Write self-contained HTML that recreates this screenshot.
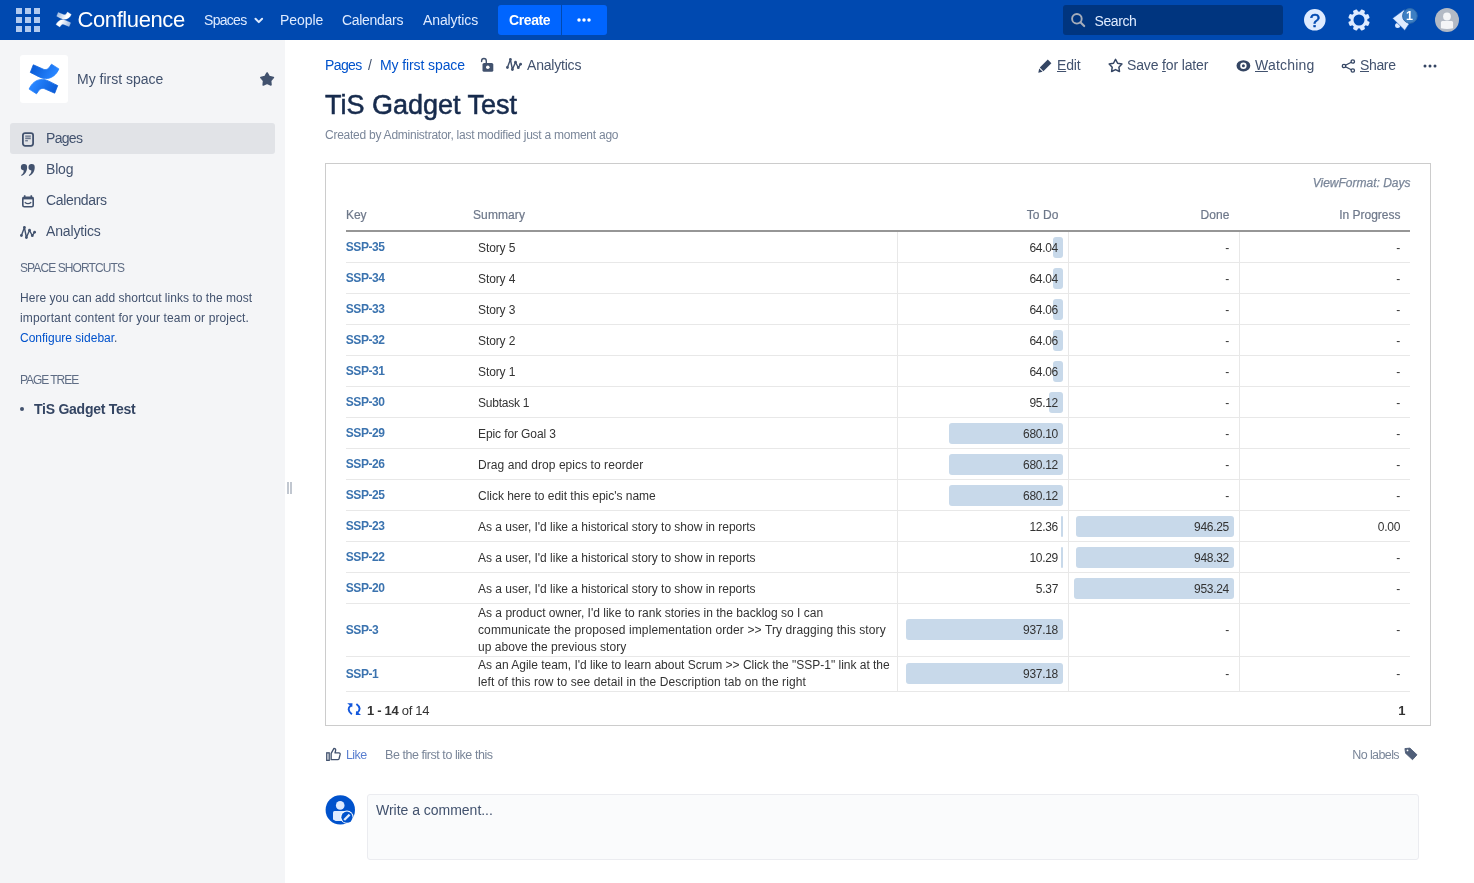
<!DOCTYPE html>
<html lang="en">
<head>
<meta charset="utf-8">
<title>TiS Gadget Test - My first space - Confluence</title>
<style>
*{box-sizing:border-box;}
html,body{margin:0;padding:0;}
body{width:1474px;height:883px;overflow:hidden;position:relative;background:#fff;font-family:"Liberation Sans",sans-serif;font-size:14px;color:#172B4D;}
#hdr,#side,#main{display:block;position:absolute;left:0;top:0;width:1474px;height:0;}
.b,.t,svg{position:absolute;}
svg{overflow:visible;}
.t{white-space:nowrap;line-height:20px;margin:0;padding:0;font-weight:normal;}
a{text-decoration:none;color:#0052CC;}
u{text-decoration:underline;text-underline-offset:1px;text-decoration-thickness:1px;}
</style>
</head>
<body>
<header id="hdr">
<div class="b" style="left:0;top:0;width:1474px;height:40px;background:#0049B0"></div>
<svg style="left:16px;top:8px" width="24" height="24" viewBox="0 0 24 24" fill="#B2CAEF"><rect x="0" y="0" width="6" height="6"/><rect x="9" y="0" width="6" height="6"/><rect x="18" y="0" width="6" height="6"/><rect x="0" y="9" width="6" height="6"/><rect x="9" y="9" width="6" height="6"/><rect x="18" y="9" width="6" height="6"/><rect x="0" y="18" width="6" height="6"/><rect x="9" y="18" width="6" height="6"/><rect x="18" y="18" width="6" height="6"/></svg>
<svg style="left:56px;top:12px" width="15.3" height="15" viewBox="9 9 30 30" preserveAspectRatio="none"><defs><linearGradient id="wg" gradientUnits="userSpaceOnUse" x1="12" y1="11" x2="29" y2="19"><stop offset="0" stop-color="#fff" stop-opacity="0.6"/><stop offset="1" stop-color="#fff"/></linearGradient></defs><g fill="url(#wg)" stroke="url(#wg)" stroke-width="0.6" stroke-linejoin="round"><path d="M13.300 9.800L23.400 14.200C26 15.300 28.500 14 29.900 11.400L31.500 9.200L38.900 13.900C36.500 19.500 32 23.600 25.500 23.600C22 23.600 19 21.800 10.300 17.400Z"/><path d="M13.300 9.800L23.400 14.200C26 15.300 28.500 14 29.900 11.400L31.500 9.200L38.900 13.900C36.500 19.500 32 23.600 25.500 23.600C22 23.600 19 21.800 10.300 17.400Z" transform="rotate(180 24 24)"/></g></svg>
<span class="t" style="left:77.5px;top:8px;line-height:24px;font-size:22px;color:#fff;letter-spacing:-0.4px">Confluence</span>
<span class="t" style="left:204px;top:10px;color:#DEEBFF;letter-spacing:-0.7px">Spaces</span>
<svg style="left:253.5px;top:16.5px" width="10" height="8" viewBox="0 0 10 8"><path d="M1.5 1.8L4.8 5.1L8.1 1.8" fill="none" stroke="#DEEBFF" stroke-width="2" stroke-linecap="round" stroke-linejoin="round"/></svg>
<span class="t" style="left:280px;top:10px;color:#DEEBFF;letter-spacing:-0.05px">People</span>
<span class="t" style="left:342px;top:10px;color:#DEEBFF;letter-spacing:-0.3px">Calendars</span>
<span class="t" style="left:423px;top:10px;color:#DEEBFF;letter-spacing:-0.1px">Analytics</span>
<div class="b" style="left:498px;top:5px;width:63px;height:30px;background:#0065FF;border-radius:3px 0 0 3px"></div>
<div class="b" style="left:562px;top:5px;width:45px;height:30px;background:#0065FF;border-radius:0 3px 3px 0"></div>
<span class="t" style="left:509px;top:10px;color:#fff;font-weight:bold;letter-spacing:-0.4px">Create</span>
<svg style="left:577px;top:18px" width="14" height="4" viewBox="0 0 14 4" fill="#fff"><circle cx="2" cy="2" r="1.75"/><circle cx="7" cy="2" r="1.75"/><circle cx="12" cy="2" r="1.75"/></svg>
<div class="b" style="left:1063px;top:5px;width:220px;height:30px;background:#00357F;border-radius:3px"></div>
<svg style="left:1071px;top:13px" width="15" height="15" viewBox="0 0 15 15"><circle cx="5.9" cy="5.8" r="4.8" fill="none" stroke="#A5ADBA" stroke-width="1.9"/><path d="M9.4 9.3L13.2 13.1" stroke="#A5ADBA" stroke-width="2.1" stroke-linecap="round"/></svg>
<span class="t" style="left:1094.5px;top:10.5px;color:#DEEBFF;letter-spacing:-0.4px">Search</span>
<svg style="left:1304.400px;top:9.200px" width="21.600" height="21.600" viewBox="0 0 21.600 21.600"><circle cx="10.800" cy="10.800" r="10.800" fill="#DEEBFF"/><text x="10.900" y="17.700" text-anchor="middle" font-family="Liberation Sans, sans-serif" font-size="18.500" fill="#0049B0" stroke="#0049B0" stroke-width="0.500">?</text></svg>
<svg style="left:1348.200px;top:9px" width="22" height="22" viewBox="-11 -11 22 22"><g fill="#DEEBFF"><rect x="-2.300" y="-10.800" width="4.600" height="4" rx="1.100" transform="rotate(22.5)"/><rect x="-2.300" y="-10.800" width="4.600" height="4" rx="1.100" transform="rotate(67.5)"/><rect x="-2.300" y="-10.800" width="4.600" height="4" rx="1.100" transform="rotate(112.5)"/><rect x="-2.300" y="-10.800" width="4.600" height="4" rx="1.100" transform="rotate(157.5)"/><rect x="-2.300" y="-10.800" width="4.600" height="4" rx="1.100" transform="rotate(202.5)"/><rect x="-2.300" y="-10.800" width="4.600" height="4" rx="1.100" transform="rotate(247.5)"/><rect x="-2.300" y="-10.800" width="4.600" height="4" rx="1.100" transform="rotate(292.5)"/><rect x="-2.300" y="-10.800" width="4.600" height="4" rx="1.100" transform="rotate(337.5)"/></g><circle r="7" fill="none" stroke="#DEEBFF" stroke-width="3"/></svg>
<svg style="left:1390px;top:6px" width="30" height="28" viewBox="0 0 30 28">
<circle cx="7.600" cy="19.400" r="2.500" fill="#DEEBFF"/>
<path d="M2.500 12.300L14.300 3.600L18.900 18.200L14.800 24.400Z" fill="#DEEBFF" stroke="#0049B0" stroke-width="0.600" stroke-linejoin="round"/>
<circle cx="19.900" cy="9.900" r="7.300" fill="#3D7FC3" stroke="#2F6CAE" stroke-width="1"/>
<text x="19.600" y="14.300" text-anchor="middle" font-family="Liberation Sans, sans-serif" font-weight="bold" font-size="12.500" fill="#fff">1</text>
</svg>
<svg style="left:1435px;top:8px" width="24" height="24" viewBox="0 0 24 24"><circle cx="12" cy="12" r="12" fill="#B3BAC5"/><circle cx="12" cy="8.500" r="3.900" fill="#F4F5F7"/><path d="M5.900 14.500a1.500 1.500 0 0 1 1.500-1.500h9.200a1.500 1.500 0 0 1 1.500 1.500V20.300Q12 21.800 5.900 20.300Z" fill="#F4F5F7"/></svg>
</header>
<aside id="side">
<div class="b" style="left:0;top:40px;width:285px;height:843px;background:#F4F5F7"></div>
<div class="b" style="left:20px;top:55px;width:48px;height:48px;background:#fff;border-radius:3px"></div>
<svg style="left:20px;top:55px" width="48" height="48" viewBox="0 0 48 48">
<defs><linearGradient id="cg1" gradientUnits="userSpaceOnUse" x1="13" y1="10" x2="33" y2="21"><stop offset="0" stop-color="#0A5BD6"/><stop offset="1" stop-color="#2684FF"/></linearGradient></defs>
<g fill="url(#cg1)" stroke="url(#cg1)" stroke-width="0.800" stroke-linejoin="round"><path d="M13.300 9.800L23.400 14.200C26 15.300 28.500 14 29.900 11.400L31.500 9.200L38.900 13.900C36.500 19.500 32 23.600 25.500 23.600C22 23.600 19 21.800 10.300 17.400Z"/><path d="M13.300 9.800L23.400 14.200C26 15.300 28.500 14 29.900 11.400L31.500 9.200L38.900 13.900C36.500 19.500 32 23.600 25.500 23.600C22 23.600 19 21.800 10.300 17.400Z" transform="rotate(180 24 24)"/></g></svg>
<span class="t" style="left:77px;top:69px;color:#42526E">My first space</span>
<svg style="left:260px;top:72px" width="15" height="15" viewBox="0 0 15 15"><path d="M7.10 1.00L9.27 4.61L13.38 5.56L10.62 8.74L10.98 12.94L7.10 11.30L3.22 12.94L3.58 8.74L0.82 5.56L4.93 4.61Z" fill="#42526E" stroke="#42526E" stroke-width="1.6" stroke-linejoin="round"/></svg>
<div class="b" style="left:10px;top:123px;width:265px;height:31px;background:#E1E3E7;border-radius:3px"></div>
<svg style="left:22px;top:131.5px" width="12" height="15" viewBox="0 0 12 15"><rect x="0.9" y="1.1" width="10.2" height="12.7" rx="2.2" fill="none" stroke="#42526E" stroke-width="1.8"/><rect x="3.2" y="3.6" width="5.6" height="1" fill="#42526E"/><rect x="3.2" y="5.5" width="5.6" height="1.7" fill="#6B778C"/><rect x="3.2" y="8.3" width="2.7" height="1" fill="#42526E"/></svg>
<span class="t" style="left:46px;top:128px;color:#42526E;letter-spacing:-0.7px">Pages</span>
<svg style="left:21px;top:164px" width="14.3" height="12" viewBox="0 0 15 12" preserveAspectRatio="none" fill="#42526E"><path d="M3.200 0a3.200 3.200 0 0 1 3.200 3.300C6.400 7.200 4.600 10.400 0.600 12l-.4-1.100c1.700-.9 2.600-2.400 2.700-4.500A3.200 3.200 0 0 1 3.200 0z"/><path d="M11.200 0a3.200 3.200 0 0 1 3.200 3.300c0 3.900-1.800 7.100-5.800 8.700l-.4-1.100c1.700-.9 2.600-2.400 2.700-4.500A3.200 3.200 0 0 1 11.200 0z"/></svg>
<span class="t" style="left:46px;top:159px;color:#42526E;letter-spacing:-0.2px">Blog</span>
<svg style="left:22px;top:195px" width="12" height="13" viewBox="0 0 12 13"><path d="M2.7 0.3v2M9.3 0.3v2" stroke="#42526E" stroke-width="1.6"/><rect x="0.8" y="2.3" width="10.4" height="9.4" rx="1.5" fill="none" stroke="#42526E" stroke-width="1.6"/><rect x="0.8" y="2" width="10.4" height="2.4" fill="#42526E"/><path d="M2.8 7.2Q6 10.2 9.2 7.2" fill="none" stroke="#42526E" stroke-width="1.2"/></svg>
<span class="t" style="left:46px;top:190px;color:#42526E;letter-spacing:-0.35px">Calendars</span>
<svg style="left:20.4px;top:225.6px" width="16" height="14" viewBox="0 0 16 14"><path d="M1.4 9.5L4.4 1.4L6.4 11.5L9.5 4.2L12.3 9.7L14.6 6.2" fill="none" stroke="#42526E" stroke-width="1.4" stroke-linejoin="round"/><circle cx="1.4" cy="9.5" r="1.4" fill="#42526E"/><circle cx="4.4" cy="1.4" r="1.4" fill="#42526E"/><circle cx="6.4" cy="11.5" r="1.4" fill="#42526E"/><circle cx="9.5" cy="4.2" r="1.4" fill="#42526E"/><circle cx="12.3" cy="9.7" r="1.4" fill="#42526E"/><circle cx="14.6" cy="6.2" r="1.4" fill="#42526E"/></svg>
<span class="t" style="left:46px;top:221px;color:#42526E;letter-spacing:-0.15px">Analytics</span>
<span class="t" style="left:20px;top:257.5px;font-size:12px;color:#5E6C84;letter-spacing:-0.9px">SPACE SHORTCUTS</span>
<span class="t" style="left:20px;top:288px;font-size:12px;color:#42526E;letter-spacing:0.03px">Here you can add shortcut links to the most</span>
<span class="t" style="left:20px;top:308px;font-size:12px;color:#42526E;letter-spacing:0.13px">important content for your team or project.</span>
<span class="t" style="left:20px;top:328px;font-size:12px;color:#42526E"><a>Configure sidebar</a>.</span>
<span class="t" style="left:20px;top:369.5px;font-size:12px;color:#5E6C84;letter-spacing:-1.05px">PAGE TREE</span>
<div class="b" style="left:20px;top:407px;width:4px;height:4px;border-radius:2px;background:#42526E"></div>
<span class="t" style="left:34px;top:399px;color:#344563;font-weight:bold;letter-spacing:-0.25px">TiS Gadget Test</span>
<div class="b" style="left:287px;top:482px;width:2px;height:12px;background:#C1C7D0"></div>
<div class="b" style="left:290px;top:482px;width:2px;height:12px;background:#C1C7D0"></div>
</aside>
<main id="main">
<span class="t" style="left:325px;top:55px;letter-spacing:-0.6px"><a>Pages</a></span>
<span class="t" style="left:368px;top:55px;color:#42526E">/</span>
<span class="t" style="left:380px;top:55px;letter-spacing:-0.1px"><a>My first space</a></span>
<svg style="left:480px;top:57px" width="15" height="16" viewBox="0 0 15 16"><path d="M1.6 4.6V3.9a2.35 2.35 0 0 1 4.7 0V6.5" fill="none" stroke="#42526E" stroke-width="1.4" stroke-linecap="round"/><rect x="2.5" y="6" width="10.8" height="8.8" rx="1.6" fill="#42526E"/><circle cx="7.8" cy="10.3" r="1.8" fill="#fff"/></svg>
<svg style="left:506px;top:58px" width="16" height="14" viewBox="0 0 16 14"><path d="M1.4 9.5L4.4 1.4L6.4 11.5L9.5 4.2L12.3 9.7L14.6 6.2" fill="none" stroke="#42526E" stroke-width="1.4" stroke-linejoin="round"/><circle cx="1.4" cy="9.5" r="1.4" fill="#42526E"/><circle cx="4.4" cy="1.4" r="1.4" fill="#42526E"/><circle cx="6.4" cy="11.5" r="1.4" fill="#42526E"/><circle cx="9.5" cy="4.2" r="1.4" fill="#42526E"/><circle cx="12.3" cy="9.7" r="1.4" fill="#42526E"/><circle cx="14.6" cy="6.2" r="1.4" fill="#42526E"/></svg>
<span class="t" style="left:527px;top:55px;color:#42526E;letter-spacing:-0.2px">Analytics</span>
<svg style="left:1038px;top:59px" width="14" height="14" viewBox="0 0 14 14" fill="#344563"><path d="M9.800 0.600l3.600 3.600-8 8-3.600-3.600z"/><path d="M1.200 9.400l3.400 3.400L0.300 13.700z"/></svg>
<span class="t" style="left:1057px;top:55px;color:#42526E;letter-spacing:-0.15px"><u>E</u>dit</span>
<svg style="left:1108px;top:58px" width="15" height="15" viewBox="0 0 15 15"><path d="M7.55 1.40L9.61 5.27L13.92 6.03L10.88 9.18L11.49 13.52L7.55 11.60L3.61 13.52L4.22 9.18L1.18 6.03L5.49 5.27Z" fill="none" stroke="#344563" stroke-width="1.5" stroke-linejoin="round"/></svg>
<span class="t" style="left:1127px;top:55px;color:#42526E;letter-spacing:-0.15px">Save <u>f</u>or later</span>
<svg style="left:1236px;top:60px" width="15" height="12" viewBox="0 0 15 12"><ellipse cx="7.4" cy="5.8" rx="6.9" ry="5.6" fill="#344563"/><circle cx="7.4" cy="5.8" r="3.2" fill="#fff"/><circle cx="7.4" cy="5.8" r="1.5" fill="#344563"/></svg>
<span class="t" style="left:1255px;top:55px;color:#42526E;letter-spacing:0.2px"><u>W</u>atching</span>
<svg style="left:1341px;top:59px" width="15" height="14" viewBox="0 0 15 14"><path d="M11.800 2.500L3 7l8.800 4.500" fill="none" stroke="#344563" stroke-width="1.300"/><circle cx="11.800" cy="2.500" r="1.700" fill="#fff" stroke="#344563" stroke-width="1.300"/><circle cx="3" cy="7" r="1.700" fill="#fff" stroke="#344563" stroke-width="1.300"/><circle cx="11.800" cy="11.500" r="1.700" fill="#fff" stroke="#344563" stroke-width="1.300"/></svg>
<span class="t" style="left:1360px;top:55px;color:#42526E;letter-spacing:-0.35px"><u>S</u>hare</span>
<svg style="left:1423px;top:64px" width="14" height="4" viewBox="0 0 14 4" fill="#344563"><circle cx="2" cy="2" r="1.500"/><circle cx="7" cy="2" r="1.500"/><circle cx="12" cy="2" r="1.500"/></svg>
<h1 class="t" style="left:325px;top:89px;line-height:32px;font-size:27px;color:#172B4D;-webkit-text-stroke:0.55px #172B4D">TiS Gadget Test</h1>
<span class="t" style="left:325px;top:125px;font-size:12px;color:#7A8699;letter-spacing:-0.25px">Created by Administrator, last modified just a moment ago</span>
<svg style="left:325.5px;top:747px" width="15" height="14.500" viewBox="0 0 16 15"><rect x="0.800" y="6" width="2.600" height="8" fill="none" stroke="#42526E" stroke-width="1.400"/><path d="M5.500 13.300V6.500l3-5.300c1.600 0 2.100 1.200 1.700 2.600l-.6 2.200h4.200c1 0 1.500.8 1.300 1.700l-1.200 4.600c-.2.700-.700 1-1.400 1z" fill="none" stroke="#42526E" stroke-width="1.400" stroke-linejoin="round"/></svg>
<span class="t" style="left:346px;top:745px;font-size:12.5px;color:#5A7FD0;letter-spacing:-0.6px">Like</span>
<span class="t" style="left:385px;top:745px;font-size:12.5px;color:#7A8699;letter-spacing:-0.45px">Be the first to like this</span>
<span class="t" style="right:75px;top:745px;font-size:12.5px;color:#7A8699;letter-spacing:-0.6px">No labels</span>
<svg style="left:1404px;top:747px" width="14" height="14" viewBox="0 0 14 14"><path d="M0.9 1.6L5.9 1.1L13 7.8L8.5 12.7L1.6 6.2Z" fill="#505F79" stroke="#505F79" stroke-width="0.9" stroke-linejoin="round"/><circle cx="3.5" cy="3.4" r="0.9" fill="#fff"/></svg>
<svg style="left:325px;top:794px" width="31" height="32" viewBox="325 794 31 32"><circle cx="340.300" cy="809.900" r="14.700" fill="#0052CC"/><circle cx="340.200" cy="805.400" r="4.300" fill="#DEEBFF"/><path d="M333 812.500a1.500 1.500 0 0 1 1.500-1.500h11.200a1.500 1.500 0 0 1 1.500 1.500v8.500h-11.500l-2.700-1.500z" fill="#DEEBFF"/><circle cx="346.950" cy="817.200" r="6.600" fill="#fff"/><circle cx="346.950" cy="817.200" r="5.600" fill="#0052CC"/><path d="M344.200 820L349.600 814.600" stroke="#DEEBFF" stroke-width="2.300" stroke-linecap="butt"/></svg>
<div class="b" style="left:367px;top:794px;width:1052px;height:66px;background:#FAFBFC;border:1px solid #EBECF0;border-radius:3px"></div>
<span class="t" style="left:376px;top:800px;color:#42526E;letter-spacing:-0.02px">Write a comment...</span>
<div class="b" style="left:325px;top:163px;width:1106px;height:563px;border:1px solid #CCC"></div>
<span class="t" style="right:63.5px;top:173px;font-size:12px;color:#7A8699;font-style:italic;-webkit-text-stroke:0.25px #7A8699">ViewFormat: Days</span>
<span class="t" style="left:346px;top:205px;font-size:12px;color:#6E788A;letter-spacing:-0.1px;-webkit-text-stroke:0.2px #6E788A">Key</span>
<span class="t" style="left:473px;top:205px;font-size:12px;color:#6E788A;letter-spacing:0.1px;-webkit-text-stroke:0.2px #6E788A">Summary</span>
<span class="t" style="right:415.5px;top:205px;font-size:12px;color:#6E788A;letter-spacing:0.1px;-webkit-text-stroke:0.2px #6E788A">To Do</span>
<span class="t" style="right:244.5px;top:205px;font-size:12px;color:#6E788A;letter-spacing:0.1px;-webkit-text-stroke:0.2px #6E788A">Done</span>
<span class="t" style="right:73.5px;top:205px;font-size:12px;color:#6E788A;-webkit-text-stroke:0.2px #6E788A">In Progress</span>
<div class="b" style="left:346px;top:230px;width:1064px;height:2px;background:#969696"></div>
<div class="b" style="left:1053.4px;top:237px;width:9.6px;height:21px;background:#C8D9EA;border-radius:3px"></div>
<span class="t" style="left:345.7px;top:236.5px;font-size:12px;font-weight:bold;letter-spacing:-0.4px"><a style="color:#3B73AF">SSP-35</a></span>
<span class="t" style="left:478px;top:237.5px;font-size:12px;color:#333;letter-spacing:-0.1px">Story 5</span>
<span class="t" style="right:416px;top:237.5px;font-size:12px;color:#333;letter-spacing:-0.3px">64.04</span>
<span class="t" style="right:245px;top:237.5px;font-size:12px;color:#333;letter-spacing:-0.3px">-</span>
<span class="t" style="right:74px;top:237.5px;font-size:12px;color:#333;letter-spacing:-0.3px">-</span>
<div class="b" style="left:346px;top:262px;width:1064px;height:1px;background:#E8E8E8"></div>
<div class="b" style="left:1053.4px;top:268px;width:9.6px;height:21px;background:#C8D9EA;border-radius:3px"></div>
<span class="t" style="left:345.7px;top:267.5px;font-size:12px;font-weight:bold;letter-spacing:-0.4px"><a style="color:#3B73AF">SSP-34</a></span>
<span class="t" style="left:478px;top:268.5px;font-size:12px;color:#333;letter-spacing:-0.1px">Story 4</span>
<span class="t" style="right:416px;top:268.5px;font-size:12px;color:#333;letter-spacing:-0.3px">64.04</span>
<span class="t" style="right:245px;top:268.5px;font-size:12px;color:#333;letter-spacing:-0.3px">-</span>
<span class="t" style="right:74px;top:268.5px;font-size:12px;color:#333;letter-spacing:-0.3px">-</span>
<div class="b" style="left:346px;top:293px;width:1064px;height:1px;background:#E8E8E8"></div>
<div class="b" style="left:1053.4px;top:299px;width:9.6px;height:21px;background:#C8D9EA;border-radius:3px"></div>
<span class="t" style="left:345.7px;top:298.5px;font-size:12px;font-weight:bold;letter-spacing:-0.4px"><a style="color:#3B73AF">SSP-33</a></span>
<span class="t" style="left:478px;top:299.5px;font-size:12px;color:#333;letter-spacing:-0.1px">Story 3</span>
<span class="t" style="right:416px;top:299.5px;font-size:12px;color:#333;letter-spacing:-0.3px">64.06</span>
<span class="t" style="right:245px;top:299.5px;font-size:12px;color:#333;letter-spacing:-0.3px">-</span>
<span class="t" style="right:74px;top:299.5px;font-size:12px;color:#333;letter-spacing:-0.3px">-</span>
<div class="b" style="left:346px;top:324px;width:1064px;height:1px;background:#E8E8E8"></div>
<div class="b" style="left:1053.4px;top:330px;width:9.6px;height:21px;background:#C8D9EA;border-radius:3px"></div>
<span class="t" style="left:345.7px;top:329.5px;font-size:12px;font-weight:bold;letter-spacing:-0.4px"><a style="color:#3B73AF">SSP-32</a></span>
<span class="t" style="left:478px;top:330.5px;font-size:12px;color:#333;letter-spacing:-0.1px">Story 2</span>
<span class="t" style="right:416px;top:330.5px;font-size:12px;color:#333;letter-spacing:-0.3px">64.06</span>
<span class="t" style="right:245px;top:330.5px;font-size:12px;color:#333;letter-spacing:-0.3px">-</span>
<span class="t" style="right:74px;top:330.5px;font-size:12px;color:#333;letter-spacing:-0.3px">-</span>
<div class="b" style="left:346px;top:355px;width:1064px;height:1px;background:#E8E8E8"></div>
<div class="b" style="left:1053.4px;top:361px;width:9.6px;height:21px;background:#C8D9EA;border-radius:3px"></div>
<span class="t" style="left:345.7px;top:360.5px;font-size:12px;font-weight:bold;letter-spacing:-0.4px"><a style="color:#3B73AF">SSP-31</a></span>
<span class="t" style="left:478px;top:361.5px;font-size:12px;color:#333;letter-spacing:-0.1px">Story 1</span>
<span class="t" style="right:416px;top:361.5px;font-size:12px;color:#333;letter-spacing:-0.3px">64.06</span>
<span class="t" style="right:245px;top:361.5px;font-size:12px;color:#333;letter-spacing:-0.3px">-</span>
<span class="t" style="right:74px;top:361.5px;font-size:12px;color:#333;letter-spacing:-0.3px">-</span>
<div class="b" style="left:346px;top:386px;width:1064px;height:1px;background:#E8E8E8"></div>
<div class="b" style="left:1048.6px;top:392px;width:14.4px;height:21px;background:#C8D9EA;border-radius:3px"></div>
<span class="t" style="left:345.7px;top:391.5px;font-size:12px;font-weight:bold;letter-spacing:-0.4px"><a style="color:#3B73AF">SSP-30</a></span>
<span class="t" style="left:478px;top:392.5px;font-size:12px;color:#333;letter-spacing:-0.23px">Subtask 1</span>
<span class="t" style="right:416px;top:392.5px;font-size:12px;color:#333;letter-spacing:-0.3px">95.12</span>
<span class="t" style="right:245px;top:392.5px;font-size:12px;color:#333;letter-spacing:-0.3px">-</span>
<span class="t" style="right:74px;top:392.5px;font-size:12px;color:#333;letter-spacing:-0.3px">-</span>
<div class="b" style="left:346px;top:417px;width:1064px;height:1px;background:#E8E8E8"></div>
<div class="b" style="left:949.4px;top:423px;width:113.6px;height:21px;background:#C8D9EA;border-radius:3px"></div>
<span class="t" style="left:345.7px;top:422.5px;font-size:12px;font-weight:bold;letter-spacing:-0.4px"><a style="color:#3B73AF">SSP-29</a></span>
<span class="t" style="left:478px;top:423.5px;font-size:12px;color:#333;letter-spacing:-0.1px">Epic for Goal 3</span>
<span class="t" style="right:416px;top:423.5px;font-size:12px;color:#333;letter-spacing:-0.3px">680.10</span>
<span class="t" style="right:245px;top:423.5px;font-size:12px;color:#333;letter-spacing:-0.3px">-</span>
<span class="t" style="right:74px;top:423.5px;font-size:12px;color:#333;letter-spacing:-0.3px">-</span>
<div class="b" style="left:346px;top:448px;width:1064px;height:1px;background:#E8E8E8"></div>
<div class="b" style="left:949.4px;top:454px;width:113.6px;height:21px;background:#C8D9EA;border-radius:3px"></div>
<span class="t" style="left:345.7px;top:453.5px;font-size:12px;font-weight:bold;letter-spacing:-0.4px"><a style="color:#3B73AF">SSP-26</a></span>
<span class="t" style="left:478px;top:454.5px;font-size:12px;color:#333;letter-spacing:0.06px">Drag and drop epics to reorder</span>
<span class="t" style="right:416px;top:454.5px;font-size:12px;color:#333;letter-spacing:-0.3px">680.12</span>
<span class="t" style="right:245px;top:454.5px;font-size:12px;color:#333;letter-spacing:-0.3px">-</span>
<span class="t" style="right:74px;top:454.5px;font-size:12px;color:#333;letter-spacing:-0.3px">-</span>
<div class="b" style="left:346px;top:479px;width:1064px;height:1px;background:#E8E8E8"></div>
<div class="b" style="left:949.4px;top:485px;width:113.6px;height:21px;background:#C8D9EA;border-radius:3px"></div>
<span class="t" style="left:345.7px;top:484.5px;font-size:12px;font-weight:bold;letter-spacing:-0.4px"><a style="color:#3B73AF">SSP-25</a></span>
<span class="t" style="left:478px;top:485.5px;font-size:12px;color:#333;letter-spacing:-0.02px">Click here to edit this epic's name</span>
<span class="t" style="right:416px;top:485.5px;font-size:12px;color:#333;letter-spacing:-0.3px">680.12</span>
<span class="t" style="right:245px;top:485.5px;font-size:12px;color:#333;letter-spacing:-0.3px">-</span>
<span class="t" style="right:74px;top:485.5px;font-size:12px;color:#333;letter-spacing:-0.3px">-</span>
<div class="b" style="left:346px;top:510px;width:1064px;height:1px;background:#E8E8E8"></div>
<div class="b" style="left:1061.4px;top:516px;width:1.6px;height:21px;background:#C8D9EA;border-radius:1px"></div>
<div class="b" style="left:1075.6px;top:516px;width:158.4px;height:21px;background:#C8D9EA;border-radius:3px"></div>
<span class="t" style="left:345.7px;top:515.5px;font-size:12px;font-weight:bold;letter-spacing:-0.4px"><a style="color:#3B73AF">SSP-23</a></span>
<span class="t" style="left:478px;top:516.5px;font-size:12px;color:#333;letter-spacing:-0.016px">As a user, I'd like a historical story to show in reports</span>
<span class="t" style="right:416px;top:516.5px;font-size:12px;color:#333;letter-spacing:-0.3px">12.36</span>
<span class="t" style="right:245px;top:516.5px;font-size:12px;color:#333;letter-spacing:-0.3px">946.25</span>
<span class="t" style="right:74px;top:516.5px;font-size:12px;color:#333;letter-spacing:-0.3px">0.00</span>
<div class="b" style="left:346px;top:541px;width:1064px;height:1px;background:#E8E8E8"></div>
<div class="b" style="left:1061.4px;top:547px;width:1.6px;height:21px;background:#C8D9EA;border-radius:1px"></div>
<div class="b" style="left:1075.6px;top:547px;width:158.4px;height:21px;background:#C8D9EA;border-radius:3px"></div>
<span class="t" style="left:345.7px;top:546.5px;font-size:12px;font-weight:bold;letter-spacing:-0.4px"><a style="color:#3B73AF">SSP-22</a></span>
<span class="t" style="left:478px;top:547.5px;font-size:12px;color:#333;letter-spacing:-0.016px">As a user, I'd like a historical story to show in reports</span>
<span class="t" style="right:416px;top:547.5px;font-size:12px;color:#333;letter-spacing:-0.3px">10.29</span>
<span class="t" style="right:245px;top:547.5px;font-size:12px;color:#333;letter-spacing:-0.3px">948.32</span>
<span class="t" style="right:74px;top:547.5px;font-size:12px;color:#333;letter-spacing:-0.3px">-</span>
<div class="b" style="left:346px;top:572px;width:1064px;height:1px;background:#E8E8E8"></div>
<div class="b" style="left:1074px;top:578px;width:160px;height:21px;background:#C8D9EA;border-radius:3px"></div>
<span class="t" style="left:345.7px;top:577.5px;font-size:12px;font-weight:bold;letter-spacing:-0.4px"><a style="color:#3B73AF">SSP-20</a></span>
<span class="t" style="left:478px;top:578.5px;font-size:12px;color:#333;letter-spacing:-0.016px">As a user, I'd like a historical story to show in reports</span>
<span class="t" style="right:416px;top:578.5px;font-size:12px;color:#333;letter-spacing:-0.3px">5.37</span>
<span class="t" style="right:245px;top:578.5px;font-size:12px;color:#333;letter-spacing:-0.3px">953.24</span>
<span class="t" style="right:74px;top:578.5px;font-size:12px;color:#333;letter-spacing:-0.3px">-</span>
<div class="b" style="left:346px;top:603px;width:1064px;height:1px;background:#E8E8E8"></div>
<div class="b" style="left:906.2px;top:619px;width:156.8px;height:21px;background:#C8D9EA;border-radius:3px"></div>
<span class="t" style="left:345.7px;top:619.5px;font-size:12px;font-weight:bold;letter-spacing:-0.4px"><a style="color:#3B73AF">SSP-3</a></span>
<span class="t" style="left:478px;top:602.5px;font-size:12px;color:#333;letter-spacing:0.01px">As a product owner, I'd like to rank stories in the backlog so I can</span>
<span class="t" style="left:478px;top:619.5px;font-size:12px;color:#333;letter-spacing:0.115px">communicate the proposed implementation order &gt;&gt; Try dragging this story</span>
<span class="t" style="left:478px;top:636.5px;font-size:12px;color:#333;letter-spacing:0.03px">up above the previous story</span>
<span class="t" style="right:416px;top:619.5px;font-size:12px;color:#333;letter-spacing:-0.3px">937.18</span>
<span class="t" style="right:245px;top:619.5px;font-size:12px;color:#333;letter-spacing:-0.3px">-</span>
<span class="t" style="right:74px;top:619.5px;font-size:12px;color:#333;letter-spacing:-0.3px">-</span>
<div class="b" style="left:346px;top:656px;width:1064px;height:1px;background:#E8E8E8"></div>
<div class="b" style="left:906.2px;top:663px;width:156.8px;height:21px;background:#C8D9EA;border-radius:3px"></div>
<span class="t" style="left:345.7px;top:663.5px;font-size:12px;font-weight:bold;letter-spacing:-0.4px"><a style="color:#3B73AF">SSP-1</a></span>
<span class="t" style="left:478px;top:655px;font-size:12px;color:#333;letter-spacing:-0.017px">As an Agile team, I'd like to learn about Scrum &gt;&gt; Click the "SSP-1" link at the</span>
<span class="t" style="left:478px;top:672px;font-size:12px;color:#333;letter-spacing:0.097px">left of this row to see detail in the Description tab on the right</span>
<span class="t" style="right:416px;top:663.5px;font-size:12px;color:#333;letter-spacing:-0.3px">937.18</span>
<span class="t" style="right:245px;top:663.5px;font-size:12px;color:#333;letter-spacing:-0.3px">-</span>
<span class="t" style="right:74px;top:663.5px;font-size:12px;color:#333;letter-spacing:-0.3px">-</span>
<div class="b" style="left:346px;top:691px;width:1064px;height:1px;background:#E8E8E8"></div>
<div class="b" style="left:897px;top:232px;width:1px;height:460px;background:#E8E8E8"></div>
<div class="b" style="left:1068px;top:232px;width:1px;height:460px;background:#E8E8E8"></div>
<div class="b" style="left:1239px;top:232px;width:1px;height:460px;background:#E8E8E8"></div>
<svg style="left:347px;top:703px" width="14.3" height="12.2" viewBox="0 0 14.3 12.2"><g id="rf"><path d="M4.6 1.8Q-1.4 6.6 4.9 11.2" fill="none" stroke="#1458DC" stroke-width="2"/><path d="M0.2 0.3H5.5L5.2 4.2Z" fill="#1458DC"/></g><g transform="rotate(180 7.15 6.1)"><path d="M4.6 1.8Q-1.4 6.6 4.9 11.2" fill="none" stroke="#1458DC" stroke-width="2"/><path d="M0.2 0.3H5.5L5.2 4.2Z" fill="#1458DC"/></g></svg>
<span class="t" style="left:367px;top:700.5px;font-size:13px;color:#333;letter-spacing:-0.3px"><b>1 - 14</b> of 14</span>
<span class="t" style="right:68.5px;top:700.5px;font-size:13px;color:#333;font-weight:bold">1</span>
</main>
</body>
</html>
